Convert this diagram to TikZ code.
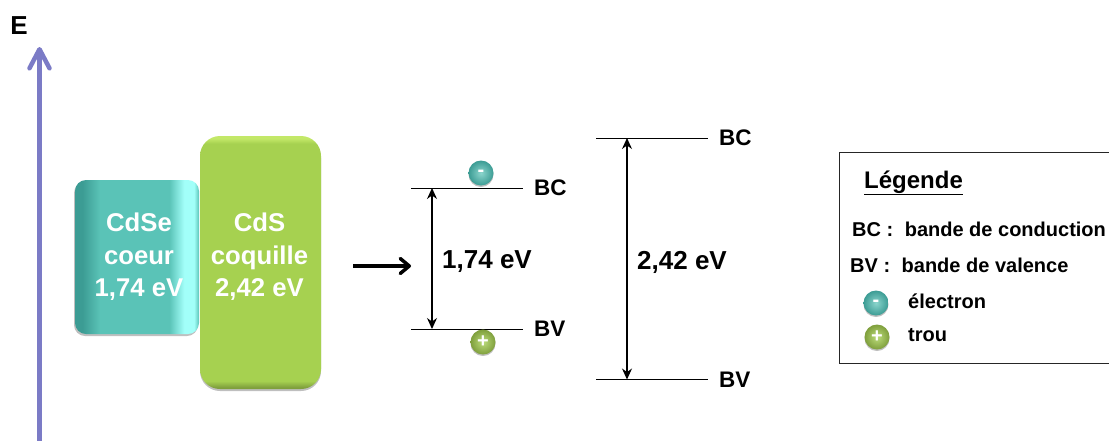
\documentclass[tikz,border=0pt]{standalone}
\usepackage{fontspec}
\setmainfont{Liberation Sans}
\usetikzlibrary{shapes.geometric, arrows.meta, positioning, calc, shadows, fadings}

\definecolor{axisblue}{HTML}{7B7BC6}
\definecolor{tealmid}{HTML}{5AC3B7}
\definecolor{tealdark}{HTML}{3C9C94}
\definecolor{tealglow}{HTML}{A2FFF9}
\definecolor{limemid}{HTML}{A6D150}
\definecolor{limetop}{HTML}{C3E868}
\definecolor{limedark}{HTML}{7F9F3C}

\pgfdeclarehorizontalshading{coreshade}{100bp}{
    color(0bp)=(tealdark); color(28bp)=(tealdark); color(35bp)=(tealmid);
    color(63bp)=(tealmid); color(69bp)=(tealglow); color(73bp)=(tealglow); color(75bp)=(tealmid); color(100bp)=(tealmid)}
\pgfdeclareverticalshading{shellshade}{100bp}{
    color(0bp)=(limedark); color(25.3bp)=(limedark); color(26.6bp)=(limemid);
    color(73.5bp)=(limemid); color(74.5bp)=(limetop); color(100bp)=(limetop)}
\pgfdeclareverticalshading{coreedge}{100bp}{
    color(0bp)=(pgftransparent!0); color(25bp)=(pgftransparent!10);
    color(27bp)=(pgftransparent!100); color(73bp)=(pgftransparent!100);
    color(75bp)=(pgftransparent!10); color(100bp)=(pgftransparent!0)}
\pgfdeclarefading{coreedgefade}{\tikz\shade[shading=coreedge] (0,0) rectangle (100bp,100bp);}

\begin{document}
\begin{tikzpicture}[
    x=1pt, y=-1pt,
    node distance=11pt,
    bandtxt/.style={text=white, font=\bfseries\fontsize{25.7}{32.5}\selectfont, align=center, inner sep=0pt},
    core/.style={rectangle, rounded corners=11pt, minimum width=124pt, minimum height=154pt, inner sep=0pt, shade, shading=coreshade, drop shadow={shadow xshift=-1pt, shadow yshift=-2pt, opacity=.25, fill=black}},
    shell/.style={rectangle, rounded corners=20pt, minimum width=121pt, minimum height=253pt, inner sep=0pt, shade, shading=shellshade, drop shadow={shadow xshift=0pt, shadow yshift=-2pt, opacity=.25, fill=black}},
    level/.style={draw=black, line width=1pt},
    gap/.style={{Stealth[length=11pt, width=10pt]}-{Stealth[length=11pt, width=10pt]}, line width=1.2pt},
    bandname/.style={font=\bfseries\fontsize{22.5}{22.5}\selectfont, inner sep=0pt},
    gapval/.style={font=\bfseries\fontsize{26}{26}\selectfont, inner sep=0pt, anchor=west},
    legtxt/.style={font=\bfseries\fontsize{20}{20}\selectfont, inner sep=0pt, anchor=west},
    carrier/.style={circle, minimum size=25pt, inner sep=0pt, text=white, font=\bfseries\fontsize{20}{20}\selectfont, drop shadow={shadow xshift=0pt, shadow yshift=-1.5pt, opacity=.25, fill=black}},
    electron/.style={carrier, inner color=tealmid!70!white, outer color=tealdark},
    hole/.style={carrier, inner color=limemid!75!white, outer color=limedark}
]
\path [use as bounding box, clip] (0,0) rectangle (1109,440);

% === ENERGY AXIS ===
\node (energy) [font=\bfseries\fontsize{26}{26}\selectfont, inner sep=0pt] at (19,26) {E};
\coordinate (axisbot) at (39.5,442);
\coordinate (axistop) at (39.5,47);
\draw [-{Straight Barb[round, length=19pt, width=20pt]}, draw=axisblue, line width=4.5pt] (axisbot) -- (axistop);

% === CORE / SHELL ===
\node (cdse) [core] at (137,257) {};
\fill [tealdark, path fading=coreedgefade, rounded corners=11pt] (cdse.north west) rectangle (cdse.south east);
\node (cdstxt) [bandtxt] at (139,257) {CdSe\\coeur\\1,74 eV};
\node (cds) [shell] at (260.5,262.5) {};
\node (cdsstxt) [bandtxt] at (259.5,257) {CdS\\coquille\\2,42 eV};

\coordinate (jumpa) at (353,266);
\coordinate (jumpb) at (411,266);
\draw [-{Straight Barb[round, length=9pt, width=15pt]}, line width=3.5pt] (jumpa) -- (jumpb);

% === CORE LEVELS ===
\coordinate (bcaL) at (411,188);
\coordinate (bcaR) at (523,188);
\coordinate (bvaL) at (411,329);
\coordinate (bvaR) at (523,329);
\coordinate (gapaT) at (432,188);
\coordinate (gapaB) at (432,329);
\draw [level] (bcaL) -- (bcaR);
\draw [level] (bvaL) -- (bvaR);
\draw [gap] (gapaT) -- (gapaB);
\node (bca) [bandname, right=of bcaR] {BC};
\node (bva) [bandname, right=of bvaR] {BV};
\node (gapa) [gapval] at (442,262) {1,74 eV};
\node (elec) [electron] at (481,173) {-};
\node (trou) [hole] at (483,342) {+};

% === SHELL LEVELS ===
\coordinate (bcbL) at (596,138);
\coordinate (bcbR) at (708,138);
\coordinate (bvbL) at (596,379.5);
\coordinate (bvbR) at (708,379.5);
\coordinate (gapbT) at (627,138);
\coordinate (gapbB) at (627,379.5);
\draw [level] (bcbL) -- (bcbR);
\draw [level] (bvbL) -- (bvbR);
\draw [gap] (gapbT) -- (gapbB);
\node (bcb) [bandname, right=of bcbR] {BC};
\node (bvb) [bandname, right=of bvbR] {BV};
\node (gapb) [gapval] at (637,262) {2,42 eV};

% === LEGEND ===
\node (legbox) [draw=black!85, line width=1pt, minimum width=285pt, minimum height=211pt, anchor=north west, inner sep=0pt] at (839,152) {};
\node (legtitle) [font=\bfseries\fontsize{24}{24}\selectfont, inner sep=0pt, anchor=base west] at (864,188) {\underline{Légende}};
\node (legbc) [legtxt] at (852,229) {BC :\hspace{11.5pt}bande de conduction};
\node (legbv) [legtxt] at (850,265) {BV :\hspace{11.5pt}bande de valence};
\node (legel) [electron] at (876,303) {-};
\node (leghl) [hole] at (877,337) {+};
\node (legeltxt) [legtxt] at (908,301) {électron};
\node (leghltxt) [legtxt] at (908,335) {trou};

\end{tikzpicture}
\end{document}
